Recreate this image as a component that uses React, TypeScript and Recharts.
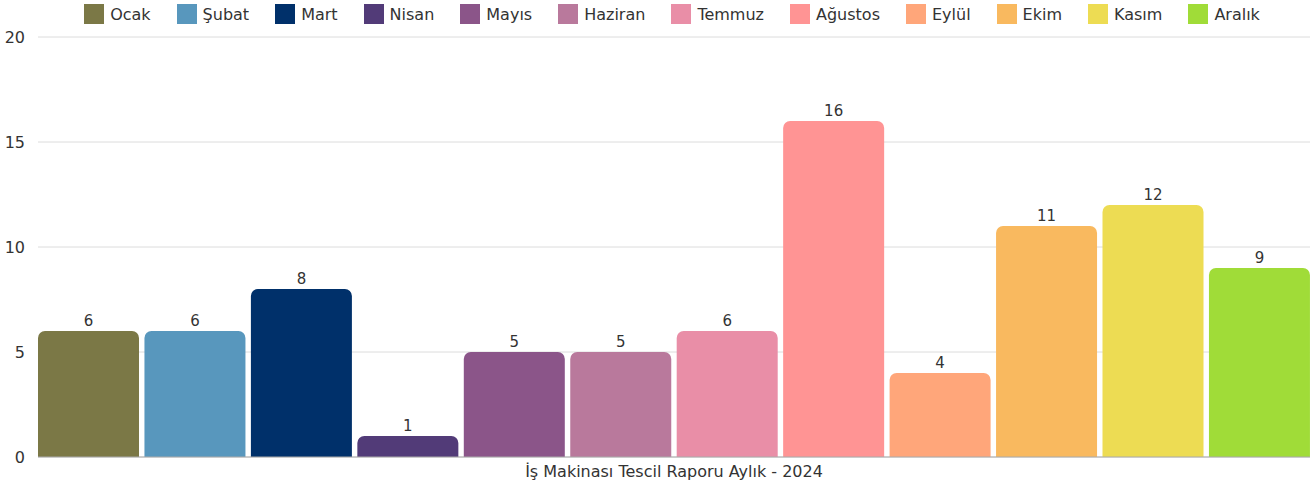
import { BarChart, Bar, XAxis, YAxis, CartesianGrid, Legend, LabelList } from 'recharts';

const category = 'İş Makinası Tescil Raporu Aylık - 2024';
const months = ['Ocak', 'Şubat', 'Mart', 'Nisan', 'Mayıs', 'Haziran', 'Temmuz', 'Ağustos', 'Eylül', 'Ekim', 'Kasım', 'Aralık'];
const counts = [6, 6, 8, 1, 5, 5, 6, 16, 4, 11, 12, 9];
const colors = ['#7b7846', '#5897bd', '#00306a', '#523b78', '#8b5589', '#b9799c', '#e98ea7', '#ff9494', '#ffa67a', '#f9b95f', '#eddc53', '#a0dc38'];
const yTicks = [0, 5, 10, 15, 20];

const row: Record<string, string | number> = { name: category };
months.forEach((m, i) => {
  row[m] = counts[i];
});
const data = [row];

const font = '"DejaVu Sans", sans-serif';

function TopLegend() {
  return (
    <div style={{ height: 36, paddingLeft: 34, boxSizing: 'border-box', display: 'flex', justifyContent: 'center', alignItems: 'flex-start', gap: 26, fontFamily: font, fontSize: 16, color: '#333' }}>
      {months.map((m, i) => (
        <div key={m} style={{ display: 'flex', alignItems: 'center', gap: 6, height: 26 }}>
          <span style={{ width: 20, height: 20, background: colors[i], display: 'inline-block' }} />
          <span>{m}</span>
        </div>
      ))}
    </div>
  );
}

export default function App() {
  return (
    <div style={{ position: 'absolute', left: 0, top: 0 }}>
      <BarChart
        width={1315}
        height={493}
        data={data}
        margin={{ top: 1, right: 5, bottom: 6, left: 0 }}
        barCategoryGap={0}
        barGap={5.45}
      >
        <CartesianGrid vertical={false} stroke="#dcdcdc" />
        <XAxis
          dataKey="name"
          tickLine={false}
          tickSize={6}
          tickMargin={3}
          height={30}
          stroke="#aaa"
          tick={{ fill: '#333', fontSize: 16, fontFamily: font }}
        />
        <YAxis
          domain={[0, 20]}
          ticks={yTicks}
          width={38}
          axisLine={false}
          tickLine={false}
          tickSize={6}
          tickMargin={7}
          tick={{ fill: '#333', fontSize: 16, fontFamily: font }}
        />
        <Legend verticalAlign="top" content={() => <TopLegend />} />
        {months.map((m, i) => (
          <Bar key={m} dataKey={m} fill={colors[i]} radius={[7, 7, 0, 0]} isAnimationActive={false}>
            <LabelList dataKey={m} position="top" offset={5} fill="#333" fontSize={15} fontFamily={font} />
          </Bar>
        ))}
      </BarChart>
    </div>
  );
}
